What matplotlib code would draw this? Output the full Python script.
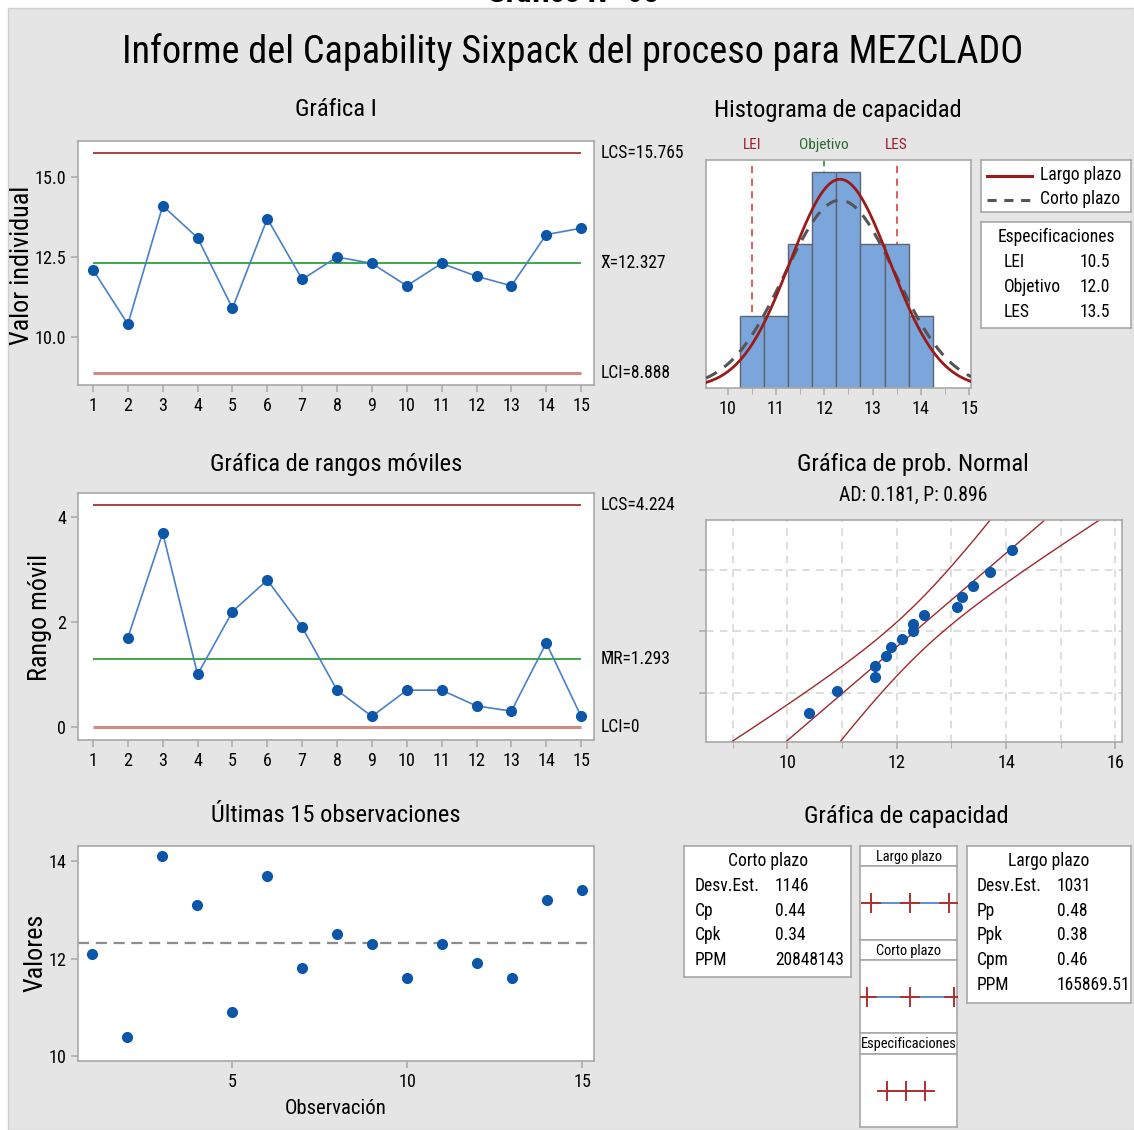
import numpy as np
import matplotlib
matplotlib.use('Agg')
import matplotlib.pyplot as plt
from matplotlib import font_manager as fm
from matplotlib.patches import Rectangle
from statistics import NormalDist

# ---------------- data ----------------
obs = list(range(1, 16))
values = [12.1, 10.4, 14.1, 13.1, 10.9, 13.7, 11.8, 12.5, 12.3, 11.6, 12.3, 11.9, 11.6, 13.2, 13.4]
mr_obs = list(range(2, 16))
mr_values = [1.7, 3.7, 1.0, 2.2, 2.8, 1.9, 0.7, 0.2, 0.7, 0.7, 0.4, 0.3, 1.6, 0.2]

i_ucl, i_center, i_lcl = 15.765, 12.327, 8.888
mr_ucl, mr_center, mr_lcl = 4.224, 1.293, 0

spec_lei, spec_target, spec_les = 10.5, 12.0, 13.5
sd_short, sd_long = 1.146, 1.031
hist_edges = [10.25, 10.75, 11.25, 11.75, 12.25, 12.75, 13.25, 13.75, 14.25]

ad_text = "AD: 0.181, P: 0.896"
spec_labels = ["LEI", "Objetivo", "LES"]
spec_texts = ["10.5", "12.0", "13.5"]
short_labels = ["Desv.Est.", "Cp", "Cpk", "PPM"]
short_texts = ["1146", "0.44", "0.34", "20848143"]
long_labels = ["Desv.Est.", "Pp", "Ppk", "Cpm", "PPM"]
long_texts = ["1031", "0.48", "0.38", "0.46", "165869.51"]

# ---------------- font ----------------
def pick_font():
    ents = fm.fontManager.ttflist
    names = {f.name for f in ents}
    for cand in ['Liberation Sans Narrow', 'Roboto Condensed', 'Open Sans Condensed',
                 'Noto Sans Condensed', 'DejaVu Sans Condensed']:
        if cand in names:
            return cand, 'normal'
    for f in ents:
        if ('Narrow' in f.name or 'Condensed' in f.name) and 'Mono' not in f.name:
            return f.name, 'normal'
    for fam in ['DejaVu Sans', 'Noto Sans', 'Open Sans']:
        for f in ents:
            if f.name == fam and str(f.stretch) in ('condensed', 'semi-condensed', 'extra-condensed'):
                return fam, 'condensed'
    return 'Liberation Sans', 'normal'

FONT, STRETCH = pick_font()
plt.rcParams['font.family'] = [FONT, 'DejaVu Sans']
plt.rcParams['font.stretch'] = STRETCH

W, H = 1134, 1130
fig = plt.figure(figsize=(W / 100, H / 100), dpi=100, facecolor='white')

def ax_px(x0, y0, x1, y1):
    return fig.add_axes([x0 / W, 1 - y1 / H, (x1 - x0) / W, (y1 - y0) / H])

def ftxt(x, y, s, **kw):
    return fig.text(x / W, 1 - y / H, s, **kw)

# size calibration from the main title width
MAIN_TITLE = "Informe del Capability Sixpack del proceso para MEZCLADO"
probe = ftxt(573, 52, MAIN_TITLE, fontsize=36)
rend = fig.canvas.get_renderer()
wpx = probe.get_window_extent(rend).width
probe.remove()
S = 903.0 / wpx

def fs(v):
    return v * S

# background panel
fig.patches.append(Rectangle((8 / W, 0), 1 - 8 / W, 1 - 8 / H, transform=fig.transFigure,
                             facecolor='#e5e5e5', edgecolor='#cfcfcf', lw=1, zorder=-10))

ftxt(573, 2.5, "Gráfico N° 08", fontsize=fs(30), ha='center', va='baseline', fontweight='bold')
ftxt(573, 52, MAIN_TITLE, fontsize=fs(36), ha='center', va='center')

TITLE = 23
TICK = 17
SIDE = 16.5
BOX = 16.5
YLAB = 24.5

for (x, y, s) in [(336, 110, "Gráfica I"), (838, 110, "Histograma de capacidad"),
                  (336, 464, "Gráfica de rangos móviles"), (913, 464, "Gráfica de prob. Normal"),
                  (336, 816, "Últimas 15 observaciones"), (906, 816, "Gráfica de capacidad")]:
    ftxt(x, y, s, fontsize=fs(TITLE), ha='center', va='center')
ftxt(913, 495, ad_text, fontsize=fs(18.5), ha='center', va='center')

SPINE = '#a8a8a8'
BLUE_PT = '#0b56a8'
BLUE_LN = '#4a80c8'
DKRED = '#9b2226'
LTRED = '#d08a88'
GREEN = '#1e9a2e'

def style(ax):
    ax.set_facecolor('white')
    for s in ax.spines.values():
        s.set_color(SPINE)
        s.set_linewidth(1.2)
    ax.tick_params(colors=SPINE, labelcolor='black', length=5, width=1.1, labelsize=fs(TICK))

# ---------------- I chart ----------------
ax1 = ax_px(78, 141, 594, 385)
style(ax1)
ax1.hlines(i_ucl, 1, 15, color=DKRED, lw=1.2)
ax1.hlines(i_center, 1, 15, color=GREEN, lw=1.2)
ax1.hlines(i_lcl, 1, 15, color=LTRED, lw=2.2)
ax1.plot(obs, values, color=BLUE_LN, lw=1.2, marker='o', ms=7, mfc=BLUE_PT, mec=BLUE_PT, zorder=3)
ax1.set_xlim(0.57, 15.37)
ax1.set_ylim(8.5, 16.125)
ax1.set_xticks(obs)
ax1.set_yticks([10, 12.5, 15])
ax1.set_yticklabels(['10.0', '12.5', '15.0'])
tr = ax1.get_yaxis_transform()
ax1.text(1.012, i_ucl, f"LCS={i_ucl}", transform=tr, va='center', ha='left', fontsize=fs(SIDE))
ax1.text(1.012, i_center, f"X\u0304={i_center}", transform=tr, va='center', ha='left', fontsize=fs(SIDE))
ax1.text(1.012, i_lcl, f"LCI={i_lcl}", transform=tr, va='center', ha='left', fontsize=fs(SIDE))
ftxt(22, 265, "Valor individual", rotation=90, ha='center', va='center', fontsize=fs(YLAB))

# ---------------- MR chart ----------------
ax2 = ax_px(78, 493, 594, 740)
style(ax2)
ax2.hlines(mr_ucl, 1, 15, color=DKRED, lw=1.2)
ax2.hlines(mr_center, 1, 15, color=GREEN, lw=1.2)
ax2.hlines(mr_lcl, 1, 15, color=LTRED, lw=2.2)
ax2.plot(mr_obs, mr_values, color=BLUE_LN, lw=1.2, marker='o', ms=7, mfc=BLUE_PT, mec=BLUE_PT, zorder=3)
ax2.set_xlim(0.57, 15.37)
ax2.set_ylim(-0.25, 4.46)
ax2.set_xticks(obs)
ax2.set_yticks([0, 2, 4])
tr = ax2.get_yaxis_transform()
ax2.text(1.012, mr_ucl, f"LCS={mr_ucl}", transform=tr, va='center', ha='left', fontsize=fs(SIDE))
ax2.text(1.012, mr_center, f"M\u0304R={mr_center}", transform=tr, va='center', ha='left', fontsize=fs(SIDE))
ax2.text(1.012, mr_lcl, f"LCI={mr_lcl}", transform=tr, va='center', ha='left', fontsize=fs(SIDE))
ftxt(40, 617, "Rango móvil", rotation=90, ha='center', va='center', fontsize=fs(YLAB))

# ---------------- Last 15 observations ----------------
ax3 = ax_px(78, 846, 594, 1061)
style(ax3)
ax3.axhline(i_center, color='#8c8c8c', ls=(0, (5, 3)), lw=1.6)
ax3.plot(obs, values, ls='none', marker='o', ms=7, mfc=BLUE_PT, mec=BLUE_PT)
ax3.set_xlim(0.6, 15.34)
ax3.set_ylim(9.9, 14.31)
ax3.set_xticks([5, 10, 15])
ax3.set_yticks([10, 12, 14])
ftxt(35, 953, "Valores", rotation=90, ha='center', va='center', fontsize=fs(YLAB))
ftxt(336, 1109, "Observación", ha='center', va='center', fontsize=fs(19.5))

# ---------------- Histogram ----------------
def npdf(x, m, s):
    return np.exp(-0.5 * ((x - m) / s) ** 2) / (s * np.sqrt(2 * np.pi))

axh = ax_px(706, 160, 971, 388)
style(axh)
xl = (9.55, 15.04)
axh.axvline(spec_lei, color='#d9534f', ls=(0, (4, 3)), lw=1.3, zorder=1)
axh.axvline(spec_les, color='#d9534f', ls=(0, (4, 3)), lw=1.3, zorder=1)
axh.axvline(spec_target, color=GREEN, ls=(0, (4, 3)), lw=1.2, zorder=1)
axh.hist(values, bins=hist_edges, color='#7ba6db', edgecolor='#5f6470', lw=1, zorder=2)
xs = np.linspace(xl[0], xl[1], 300)
scale = len(values) * (hist_edges[1] - hist_edges[0])
axh.plot(xs, scale * npdf(xs, i_center, sd_short), color='#555555', lw=2.2, ls=(0, (4, 3)), zorder=3)
axh.plot(xs, scale * npdf(xs, i_center, sd_long), color='#9b1b1b', lw=2.0, zorder=4)
axh.set_xlim(*xl)
axh.set_ylim(0, 3.17)
axh.set_xticks([10, 11, 12, 13, 14, 15])
axh.set_xticks(np.arange(10.5, 15, 1.0), minor=True)
axh.tick_params(axis='x', which='minor', colors=SPINE, length=4)
axh.set_yticks([])
trx = axh.get_xaxis_transform()
axh.text(spec_lei, 1.035, "LEI", transform=trx, ha='center', va='bottom', color='#a01c2c', fontsize=fs(14.5))
axh.text(spec_target, 1.035, "Objetivo", transform=trx, ha='center', va='bottom', color='#2d6a2d', fontsize=fs(14.5))
axh.text(spec_les, 1.035, "LES", transform=trx, ha='center', va='bottom', color='#a01c2c', fontsize=fs(14.5))

# legend box
axl = ax_px(981, 160, 1131, 212)
style(axl)
axl.set_xticks([]); axl.set_yticks([])
axl.set_xlim(0, 1); axl.set_ylim(0, 1)
axl.plot([0.04, 0.34], [0.69, 0.69], color='#9b1b1b', lw=2.2)
axl.plot([0.04, 0.34], [0.24, 0.24], color='#555555', lw=2.2, ls=(0, (3, 2.5)))
axl.text(0.39, 0.71, "Largo plazo", va='center', ha='left', fontsize=fs(BOX))
axl.text(0.39, 0.25, "Corto plazo", va='center', ha='left', fontsize=fs(BOX))

# specs box
axs = ax_px(981, 222, 1131, 328)
style(axs)
axs.set_xticks([]); axs.set_yticks([])
ftxt(1056, 237, "Especificaciones", ha='center', va='center', fontsize=fs(BOX))
for k, (lab, val) in enumerate(zip(spec_labels, spec_texts)):
    ftxt(1004, 262 + 25 * k, lab, ha='left', va='center', fontsize=fs(BOX))
    ftxt(1080, 262 + 25 * k, val, ha='left', va='center', fontsize=fs(BOX))

# ---------------- Normal probability plot ----------------
nd = NormalDist()
axn = ax_px(706, 520, 1122, 742)
style(axn)
n = len(values)
xs_sorted = sorted(values)
zpts = [nd.inv_cdf((i + 1 - 0.3) / (n + 0.4)) for i in range(n)]
zl = (-2.29, 2.31)
zz = np.linspace(zl[0] - 0.2, zl[1] + 0.2, 200)
fit = i_center + zz * sd_long
half = 1.96 * sd_long * np.sqrt(1.0 / n + zz ** 2 / (2.0 * n))
for xv in range(9, 17):
    axn.axvline(xv, color='#d4d4d4', ls=(0, (5, 4)), lw=1.1, zorder=0)
zgrid = [nd.inv_cdf(p) for p in (0.10, 0.50, 0.90)]
for zg in zgrid:
    axn.axhline(zg, color='#d4d4d4', ls=(0, (5, 4)), lw=1.1, zorder=0)
axn.plot(fit, zz, color='#a0282d', lw=1.0)
axn.plot(fit - half, zz, color='#a0282d', lw=1.0)
axn.plot(fit + half, zz, color='#a0282d', lw=1.0)
axn.plot(xs_sorted, zpts, ls='none', marker='o', ms=7, mfc=BLUE_PT, mec=BLUE_PT, zorder=3)
axn.set_xlim(8.51, 16.12)
axn.set_ylim(*zl)
axn.set_xticks([10, 12, 14, 16])
axn.set_xticks([9, 11, 13, 15], minor=True)
axn.tick_params(axis='x', which='minor', colors=SPINE, length=4)
axn.set_yticks(zgrid)
axn.set_yticklabels([])

# ---------------- Capability tables ----------------
axc = ax_px(684, 846, 851, 977)
style(axc); axc.set_xticks([]); axc.set_yticks([])
ftxt(768, 861, "Corto plazo", ha='center', va='center', fontsize=fs(BOX))
for k, (lab, val) in enumerate(zip(short_labels, short_texts)):
    ftxt(695, 886 + 24.7 * k, lab, ha='left', va='center', fontsize=fs(BOX))
    ftxt(775, 886 + 24.7 * k, val, ha='left', va='center', fontsize=fs(BOX))

axg = ax_px(967, 846, 1131, 1003)
style(axg); axg.set_xticks([]); axg.set_yticks([])
ftxt(1049, 861, "Largo plazo", ha='center', va='center', fontsize=fs(BOX))
for k, (lab, val) in enumerate(zip(long_labels, long_texts)):
    ftxt(977, 886 + 24.7 * k, lab, ha='left', va='center', fontsize=fs(BOX))
    ftxt(1057, 886 + 24.7 * k, val, ha='left', va='center', fontsize=fs(BOX))

# capability interval column
intervals = [
    ("Largo plazo", [i_center - 3 * sd_long, i_center, i_center + 3 * sd_long]),
    ("Corto plazo", [i_center - 3 * sd_short, i_center, i_center + 3 * sd_short]),
    ("Especificaciones", [spec_lei, spec_target, spec_les]),
]
rows = [(846, 866, 940), (940, 960, 1033), (1033, 1054, 1127)]
for (lab, pts), (y0, y1, y2) in zip(intervals, rows):
    axhd = ax_px(860, y0, 957, y1)
    style(axhd); axhd.set_xticks([]); axhd.set_yticks([])
    ftxt(908.5, (y0 + y1) / 2 + 0.5, lab, ha='center', va='center', fontsize=fs(13.5))
    axp = ax_px(860, y1, 957, y2)
    style(axp); axp.set_xticks([]); axp.set_yticks([])
    axp.set_xlim(8.37, 16.03)
    axp.set_ylim(0, 1)
    axp.plot([pts[0], pts[2]], [0.5, 0.5], color='#5b8fd0', lw=1.4, zorder=2)
    axp.plot(pts, [0.5] * 3, ls='none', marker='+', ms=15, mew=1.4, color='#b03030', zorder=3)

fig.savefig('out.png', dpi=100, facecolor='white')
